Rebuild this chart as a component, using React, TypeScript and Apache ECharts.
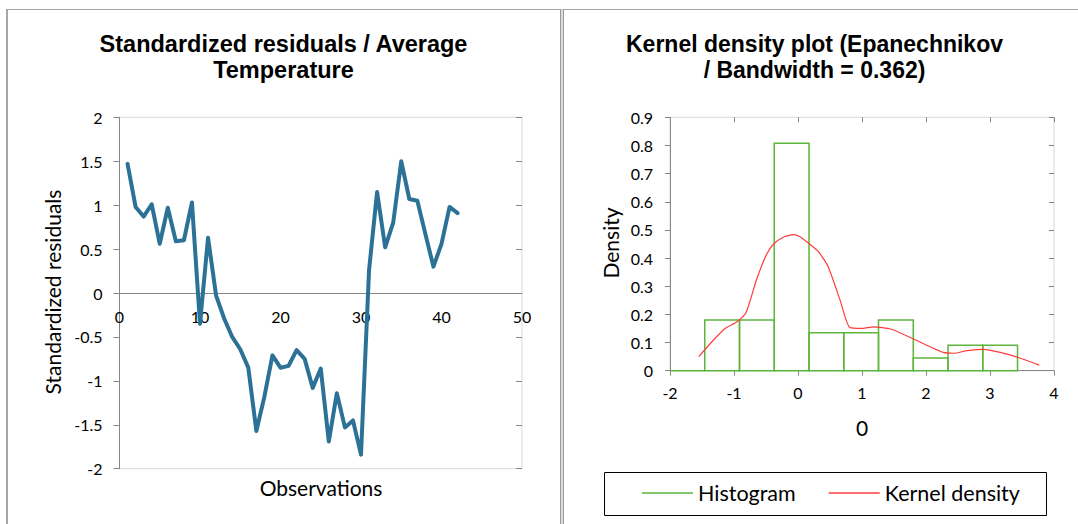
import { useEffect, useRef } from "react";
import * as echarts from "echarts";

// Standardized residuals per observation
const observations = [
  1, 2, 3, 4, 5, 6, 7, 8, 9, 10, 11, 12, 13, 14, 15, 16, 17, 18, 19, 20, 21,
  22, 23, 24, 25, 26, 27, 28, 29, 30, 31, 32, 33, 34, 35, 36, 37, 38, 39, 40,
  41, 42,
];
const residuals = [
  1.47, 0.98, 0.87, 1.01, 0.56, 0.97, 0.59, 0.6, 1.03, -0.35, 0.63, -0.03,
  -0.29, -0.5, -0.64, -0.85, -1.57, -1.18, -0.71, -0.85, -0.83, -0.65, -0.75,
  -1.08, -0.86, -1.69, -1.14, -1.53, -1.45, -1.84, 0.26, 1.15, 0.52, 0.8, 1.5,
  1.07, 1.05, 0.67, 0.3, 0.56, 0.98, 0.91,
];

// Histogram of the residuals (bin edges and densities)
const histBinEdges = [
  -2, -1.457, -0.914, -0.371, 0.172, 0.715, 1.258, 1.801, 2.344, 2.887, 3.43,
];
const histDensity = [0, 0.18, 0.18, 0.808, 0.135, 0.135, 0.18, 0.045, 0.09, 0.09];

// Epanechnikov kernel density estimate
const kernelX = [
  -1.55, -1.32, -1.14, -0.96, -0.81, -0.65, -0.49, -0.38, -0.23, -0.07, 0.03,
  0.18, 0.32, 0.47, 0.66, 0.81, 1.0, 1.18, 1.45, 1.78, 1.98, 2.27, 2.43, 2.64,
  2.9, 3.16, 3.44, 3.77,
];
const kernelY = [
  0.05, 0.109, 0.15, 0.173, 0.208, 0.322, 0.414, 0.45, 0.474, 0.483, 0.476,
  0.45, 0.423, 0.37, 0.249, 0.153, 0.15, 0.156, 0.148, 0.115, 0.094, 0.065,
  0.062, 0.071, 0.076, 0.065, 0.047, 0.02,
];

const leftTitle = "Standardized residuals / Average\nTemperature";
const rightTitle = "Kernel density plot (Epanechnikov\n/ Bandwidth = 0.362)";

const LABEL_FONT = "Lato, 'Noto Sans', sans-serif";
const TITLE_FONT = "'Liberation Sans', Arial, sans-serif";
const AXIS_GRAY = "#868686";
const FRAME_GRAY = "#A6A6A6";
const LINE_BLUE = "#2C7296";
const HIST_GREEN = "#5DB53A";
const KDE_RED = "#FF3C3C";

const LEFT_PLOT_HEIGHT = 351.4;

export default function App() {
  const ref = useRef<HTMLDivElement>(null);

  useEffect(() => {
    if (!ref.current) return;
    const chart = echarts.init(ref.current, undefined, { renderer: "svg" });

    const tickLabel = { color: "#000", fontFamily: LABEL_FONT, fontSize: 16 };
    const axisLine = { show: true, onZero: false, lineStyle: { color: AXIS_GRAY, width: 1 } };

    const histData = histDensity.map((d, i) => [histBinEdges[i], histBinEdges[i + 1], d]);

    const option: echarts.EChartsOption = {
      animation: false,
      backgroundColor: "#fff",
      grid: [
        {
          left: 119.5,
          top: 117.3,
          width: 402.5,
          height: LEFT_PLOT_HEIGHT,
          show: true,
          borderColor: "#D9D9D9",
          borderWidth: 1,
          backgroundColor: "transparent",
        },
        {
          left: 670,
          top: 117.3,
          width: 384,
          height: 253.4,
          show: true,
          borderColor: "#D9D9D9",
          borderWidth: 1,
          backgroundColor: "transparent",
        },
      ],
      xAxis: [
        {
          // observations axis sits on the zero line of the residual scale
          gridIndex: 0,
          type: "value",
          position: "bottom",
          offset: -LEFT_PLOT_HEIGHT / 2,
          min: 0,
          max: 50,
          interval: 10,
          axisLine,
          axisTick: { show: false },
          axisLabel: { ...tickLabel, margin: 15 },
          splitLine: { show: false },
        },
        {
          gridIndex: 1,
          type: "value",
          min: -2,
          max: 4,
          interval: 1,
          axisLine,
          axisTick: { show: true, length: 5, lineStyle: { color: AXIS_GRAY } },
          axisLabel: { ...tickLabel, margin: 14 },
          splitLine: { show: false },
        },
        {
          gridIndex: 1,
          type: "value",
          min: -2,
          max: 4,
          interval: 1,
          axisLine: { show: false, onZero: false },
          axisTick: { show: true, inside: true, length: 5, lineStyle: { color: AXIS_GRAY } },
          axisLabel: { show: false },
          splitLine: { show: false },
        },
      ],
      yAxis: [
        {
          gridIndex: 0,
          type: "value",
          min: -2,
          max: 2,
          interval: 0.5,
          axisLine,
          axisTick: { show: true, length: 6, lineStyle: { color: AXIS_GRAY } },
          axisLabel: { ...tickLabel, margin: 17 },
          splitLine: { show: false },
        },
        {
          gridIndex: 0,
          type: "value",
          min: -2,
          max: 2,
          interval: 0.5,
          axisLine: { show: false, onZero: false },
          axisTick: { show: true, inside: true, length: 6, lineStyle: { color: AXIS_GRAY } },
          axisLabel: { show: false },
          splitLine: { show: false },
        },
        {
          gridIndex: 1,
          type: "value",
          min: 0,
          max: 0.9,
          interval: 0.1,
          axisLine,
          axisTick: { show: true, length: 5, lineStyle: { color: AXIS_GRAY } },
          axisLabel: { ...tickLabel, margin: 17 },
          splitLine: { show: false },
        },
        {
          gridIndex: 1,
          type: "value",
          min: 0,
          max: 0.9,
          interval: 0.1,
          axisLine: { show: false, onZero: false },
          axisTick: { show: true, inside: true, length: 5, lineStyle: { color: AXIS_GRAY } },
          axisLabel: { show: false },
          splitLine: { show: false },
        },
      ],
      legend: {
        data: ["Histogram", "Kernel density"],
        left: 637,
        top: 476,
        icon: "rect",
        itemWidth: 51,
        itemHeight: 1.5,
        itemGap: 33,
        textStyle: { color: "#000", fontFamily: LABEL_FONT, fontSize: 21.5, lineHeight: 24 },
        selectedMode: false,
      },
      series: [
        {
          name: "Standardized residuals",
          type: "line",
          xAxisIndex: 0,
          yAxisIndex: 0,
          data: observations.map((o, i) => [o, residuals[i]]),
          showSymbol: false,
          lineStyle: { color: LINE_BLUE, width: 4, join: "round", cap: "round" },
          itemStyle: { color: LINE_BLUE },
          z: 3,
        },
        {
          name: "Histogram",
          type: "custom",
          xAxisIndex: 1,
          yAxisIndex: 2,
          data: histData,
          encode: { x: [0, 1], y: 2 },
          itemStyle: { color: HIST_GREEN },
          renderItem: (_params: any, api: any) => {
            const p0 = api.coord([api.value(0), api.value(2)]);
            const p1 = api.coord([api.value(1), 0]);
            return {
              type: "rect",
              shape: { x: p0[0], y: p0[1], width: p1[0] - p0[0], height: p1[1] - p0[1] },
              style: { fill: "none", stroke: HIST_GREEN, lineWidth: 1.5 },
            };
          },
          z: 3,
        },
        {
          name: "Kernel density",
          type: "line",
          xAxisIndex: 1,
          yAxisIndex: 2,
          data: kernelX.map((x, i) => [x, kernelY[i]]),
          showSymbol: false,
          smooth: 0.2,
          lineStyle: { color: KDE_RED, width: 1.2 },
          itemStyle: { color: KDE_RED },
          z: 4,
        },
      ],
      graphic: [
        // panel frames
        { type: "line", shape: { x1: 6, y1: 9.5, x2: 1078, y2: 9.5 }, style: { stroke: FRAME_GRAY, lineWidth: 1 } },
        { type: "line", shape: { x1: 7, y1: 9, x2: 7, y2: 524 }, style: { stroke: FRAME_GRAY, lineWidth: 2 } },
        { type: "rect", shape: { x: 560, y: 9, width: 4, height: 515 }, style: { fill: "#DCDCDC" } },
        { type: "line", shape: { x1: 560.5, y1: 9, x2: 560.5, y2: 524 }, style: { stroke: "#9A9A9A", lineWidth: 1 } },
        { type: "line", shape: { x1: 563.5, y1: 9, x2: 563.5, y2: 524 }, style: { stroke: "#9A9A9A", lineWidth: 1 } },
        // titles
        {
          type: "text",
          x: 283.5,
          y: 31,
          style: {
            text: leftTitle,
            fill: "#000",
            font: `bold 23.5px ${TITLE_FONT}`,
            lineHeight: 26,
            align: "center",
            verticalAlign: "top",
          },
        },
        {
          type: "text",
          x: 814.5,
          y: 31,
          style: {
            text: rightTitle,
            fill: "#000",
            font: `bold 23px ${TITLE_FONT}`,
            lineHeight: 26,
            align: "center",
            verticalAlign: "top",
          },
        },
        // axis titles
        {
          type: "text",
          x: 52,
          y: 292,
          rotation: Math.PI / 2,
          style: {
            text: "Standardized residuals",
            fill: "#000",
            font: `21px ${LABEL_FONT}`,
            align: "center",
            verticalAlign: "middle",
          },
        },
        {
          type: "text",
          x: 321,
          y: 487,
          style: { text: "Observations", fill: "#000", font: `21px ${LABEL_FONT}`, align: "center", verticalAlign: "middle" },
        },
        {
          type: "text",
          x: 610,
          y: 243,
          rotation: Math.PI / 2,
          style: { text: "Density", fill: "#000", font: `21px ${LABEL_FONT}`, align: "center", verticalAlign: "middle" },
        },
        {
          type: "text",
          x: 862,
          y: 427,
          style: { text: "0", fill: "#000", font: `21px ${LABEL_FONT}`, align: "center", verticalAlign: "middle" },
        },
        // legend frame
        {
          type: "rect",
          shape: { x: 604.5, y: 472.5, width: 442, height: 43 },
          style: { fill: "none", stroke: "#000", lineWidth: 1 },
        },
      ],
    };

    chart.setOption(option);
    return () => chart.dispose();
  }, []);

  return (
    <div
      ref={ref}
      style={{ position: "fixed", left: 0, top: 0, width: 1078, height: 524 }}
    />
  );
}
